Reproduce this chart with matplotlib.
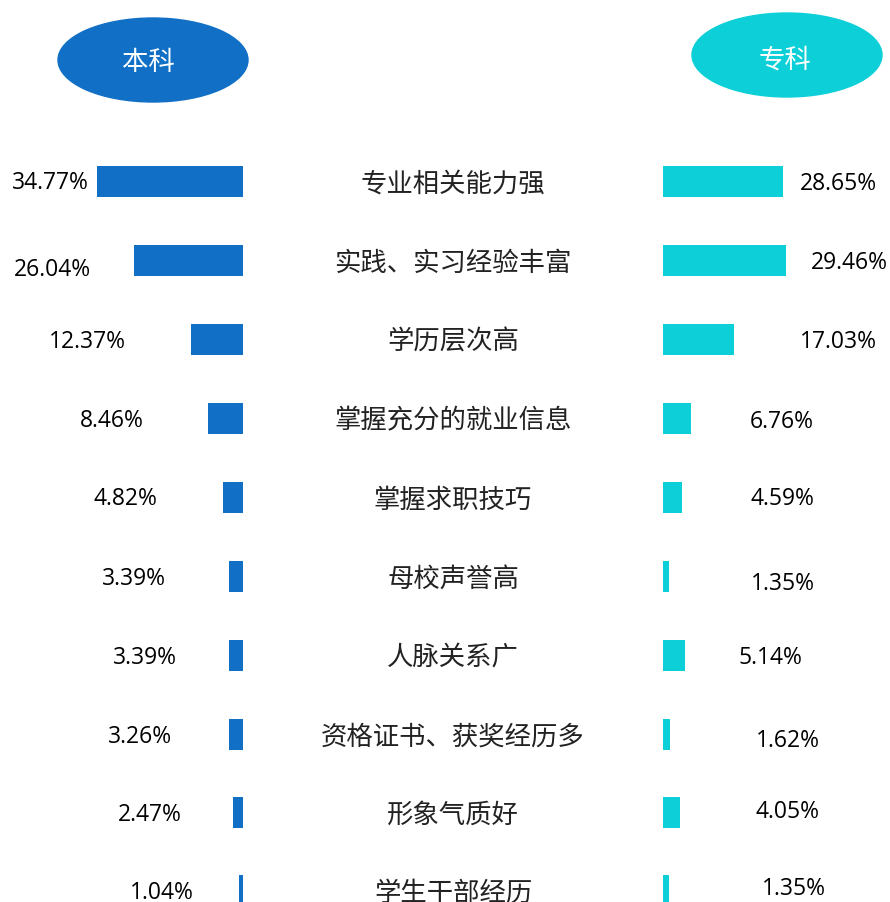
import matplotlib.pyplot as plt
from matplotlib.patches import Ellipse

plt.rcParams['font.family'] = ['Noto Sans CJK SC', 'DejaVu Sans']

categories = ['专业相关能力强', '实践、实习经验丰富', '学历层次高', '掌握充分的就业信息',
              '掌握求职技巧', '母校声誉高', '人脉关系广', '资格证书、获奖经历多',
              '形象气质好', '学生干部经历']
benke = [34.77, 26.04, 12.37, 8.46, 4.82, 3.39, 3.39, 3.26, 2.47, 1.04]
zhuanke = [28.65, 29.46, 17.03, 6.76, 4.59, 1.35, 5.14, 1.62, 4.05, 1.35]

# layout (pixel coords of a 890x902 canvas)
row_y = [181, 260, 339, 418, 497, 576, 655, 734, 812, 890]
left_lbl_x = [50, 52, 87, 112, 125, 134, 145, 140, 150, 162]
left_lbl_dy = [0, 8, 1, 1, 0, 1, 1, 1, 1, 1]
right_lbl_x = [838, 849, 838, 782, 782, 783, 770, 788, 787, 794]
right_lbl_dy = [1, 1, 1, 2, 0, 6, 1, 5, -2, -3]
scale = 4.19
left_base, right_base = 243, 663
blue, cyan = '#1170c6', '#0dcfd8'

fig = plt.figure(figsize=(8.9, 9.02), dpi=100)
ax = fig.add_axes([0, 0, 1, 1])
ax.set_xlim(0, 890)
ax.set_ylim(902, 0)
ax.axis('off')

lw = [v * scale for v in benke]
rw = [v * scale for v in zhuanke]
ax.barh(row_y, lw, left=[left_base - w for w in lw], height=31, color=blue)
ax.barh(row_y, rw, left=right_base, height=31, color=cyan)

for i, cat in enumerate(categories):
    ax.text(453, row_y[i] + 3, cat, ha='center', va='center', fontsize=19,
            color='#222222', fontweight='light')
    ax.text(left_lbl_x[i], row_y[i] + left_lbl_dy[i] + 2, f'{benke[i]:.2f}%',
            ha='center', va='center', fontsize=16.5, color='black',
            family=['Open Sans', 'DejaVu Sans'])
    ax.text(right_lbl_x[i], row_y[i] + right_lbl_dy[i] + 2, f'{zhuanke[i]:.2f}%',
            ha='center', va='center', fontsize=16.5, color='black',
            family=['Open Sans', 'DejaVu Sans'])

ax.add_patch(Ellipse((153, 60), 190, 84, color=blue))
ax.add_patch(Ellipse((787, 55), 190, 84, color=cyan))
ax.text(148, 62, '本科', ha='center', va='center', fontsize=19, color='white')
ax.text(785, 60, '专科', ha='center', va='center', fontsize=19, color='white')

fig.savefig('out.png', dpi=100)
